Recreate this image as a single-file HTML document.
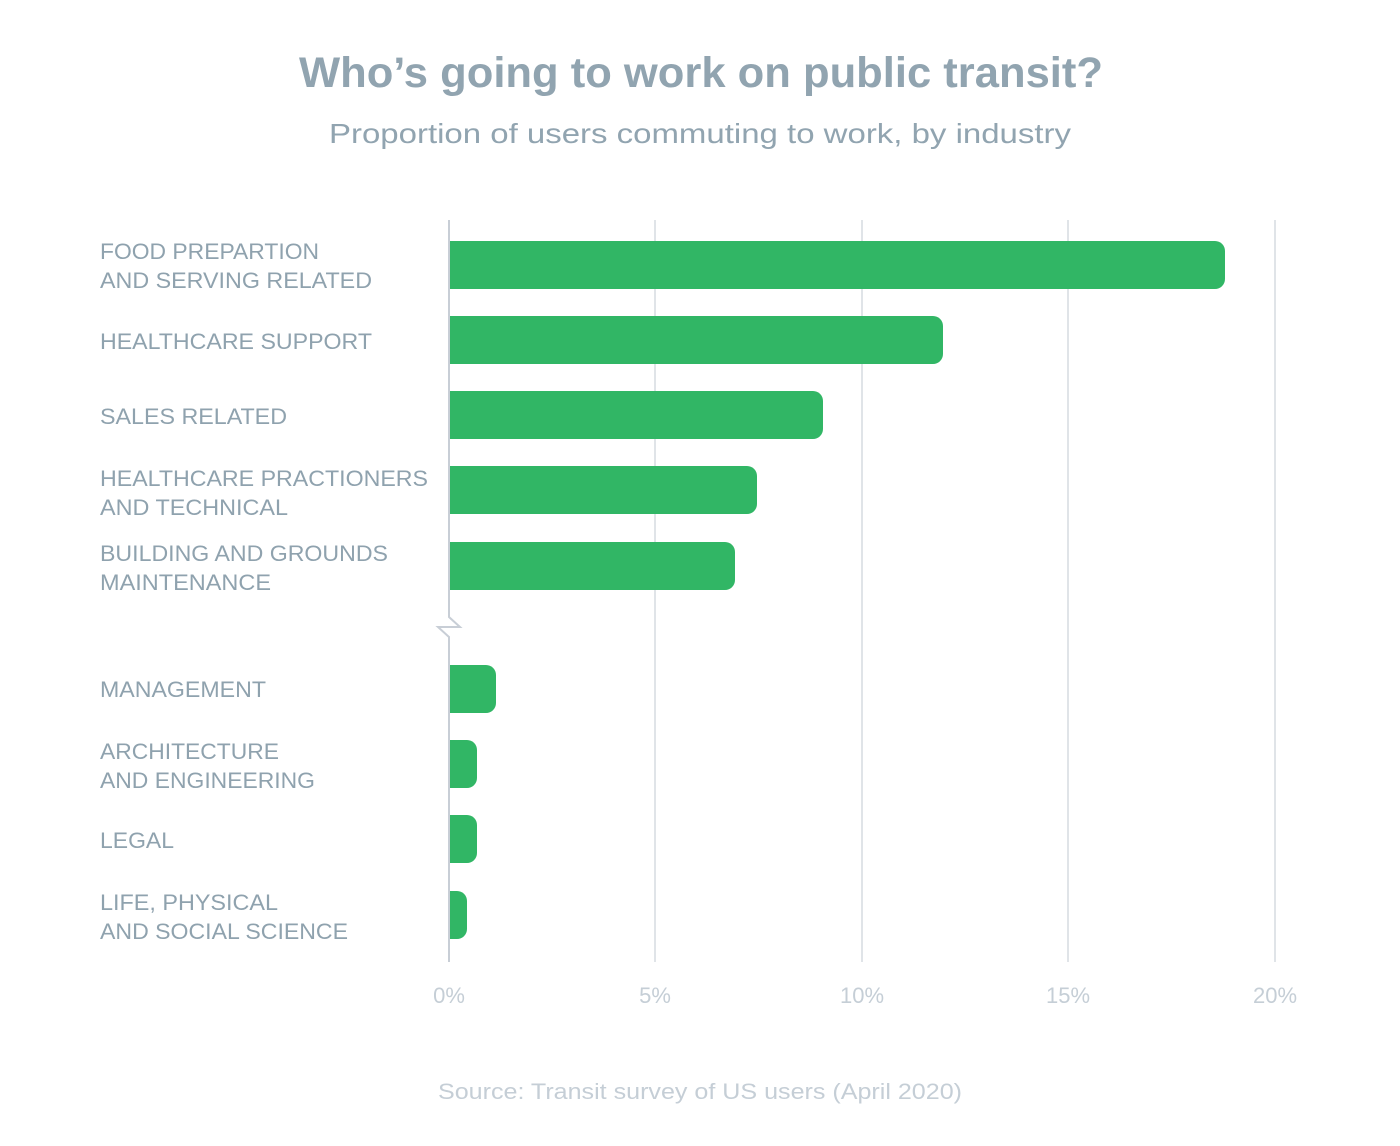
<!DOCTYPE html>
<html><head><meta charset="utf-8"><style>
html,body{margin:0;padding:0;background:#fff;}
svg{display:block;}
text{font-family:"Liberation Sans",sans-serif;}
.l{fill:#8fa2ae;font-size:22px;}
.t{fill:#c5ced6;font-size:22px;}
</style></head><body>
<svg width="1400" height="1146" viewBox="0 0 1400 1146" xmlns="http://www.w3.org/2000/svg">
<rect width="1400" height="1146" fill="#fff"/>
<text x="701" y="87" text-anchor="middle" font-size="43" font-weight="bold" fill="#91a4b0" textLength="804" lengthAdjust="spacingAndGlyphs">Who’s going to work on public transit?</text>
<text x="700" y="143" text-anchor="middle" font-size="28" fill="#91a4b0" textLength="742" lengthAdjust="spacingAndGlyphs">Proportion of users commuting to work, by industry</text>
<g stroke="#d6dbe1" stroke-width="1.5">
<line x1="655" y1="220" x2="655" y2="962"/>
<line x1="862" y1="220" x2="862" y2="962"/>
<line x1="1068" y1="220" x2="1068" y2="962"/>
<line x1="1275" y1="220" x2="1275" y2="962"/>
</g>
<g fill="#31b665">
<path d="M450 241H1215a10 10 0 0 1 10 10V279a10 10 0 0 1-10 10H450Z"/>
<path d="M450 316H933a10 10 0 0 1 10 10V354a10 10 0 0 1-10 10H450Z"/>
<path d="M450 391H813a10 10 0 0 1 10 10V429a10 10 0 0 1-10 10H450Z"/>
<path d="M450 466H747a10 10 0 0 1 10 10V504a10 10 0 0 1-10 10H450Z"/>
<path d="M450 542H725a10 10 0 0 1 10 10V580a10 10 0 0 1-10 10H450Z"/>
<path d="M450 665H486a10 10 0 0 1 10 10V703a10 10 0 0 1-10 10H450Z"/>
<path d="M450 740H467a10 10 0 0 1 10 10V778a10 10 0 0 1-10 10H450Z"/>
<path d="M450 815H467a10 10 0 0 1 10 10V853a10 10 0 0 1-10 10H450Z"/>
<path d="M450 891H457a10 10 0 0 1 10 10V929a10 10 0 0 1-10 10H450Z"/>
</g>
<polyline points="449,220 449,617 460,627 438,627 449,637 449,962" fill="none" stroke="#c8ced6" stroke-width="2"/>
<g class="l">
<text x="100" y="259" textLength="219" lengthAdjust="spacingAndGlyphs">FOOD PREPARTION</text>
<text x="100" y="288" textLength="272" lengthAdjust="spacingAndGlyphs">AND SERVING RELATED</text>
<text x="100" y="349" textLength="272" lengthAdjust="spacingAndGlyphs">HEALTHCARE SUPPORT</text>
<text x="100" y="424" textLength="187" lengthAdjust="spacingAndGlyphs">SALES RELATED</text>
<text x="100" y="486" textLength="328" lengthAdjust="spacingAndGlyphs">HEALTHCARE PRACTIONERS</text>
<text x="100" y="515" textLength="188" lengthAdjust="spacingAndGlyphs">AND TECHNICAL</text>
<text x="100" y="561" textLength="288" lengthAdjust="spacingAndGlyphs">BUILDING AND GROUNDS</text>
<text x="100" y="590" textLength="171" lengthAdjust="spacingAndGlyphs">MAINTENANCE</text>
<text x="100" y="697" textLength="166" lengthAdjust="spacingAndGlyphs">MANAGEMENT</text>
<text x="100" y="759" textLength="179" lengthAdjust="spacingAndGlyphs">ARCHITECTURE</text>
<text x="100" y="788" textLength="215" lengthAdjust="spacingAndGlyphs">AND ENGINEERING</text>
<text x="100" y="848" textLength="74" lengthAdjust="spacingAndGlyphs">LEGAL</text>
<text x="100" y="910" textLength="178" lengthAdjust="spacingAndGlyphs">LIFE, PHYSICAL</text>
<text x="100" y="939" textLength="248" lengthAdjust="spacingAndGlyphs">AND SOCIAL SCIENCE</text>
</g>
<g class="t" text-anchor="middle">
<text x="449" y="1003">0%</text>
<text x="655" y="1003">5%</text>
<text x="862" y="1003">10%</text>
<text x="1068" y="1003">15%</text>
<text x="1275" y="1003">20%</text>
</g>
<text x="700" y="1099" text-anchor="middle" class="t" textLength="524" lengthAdjust="spacingAndGlyphs">Source: Transit survey of US users (April 2020)</text>
</svg>
</body></html>
